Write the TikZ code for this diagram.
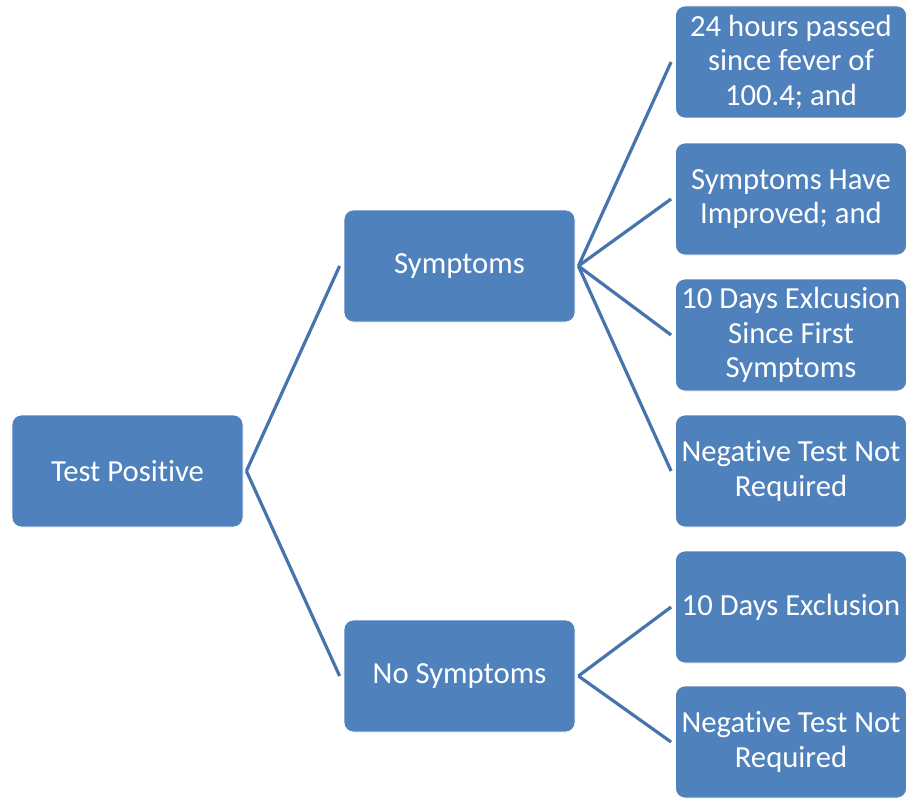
\documentclass[tikz,border=0pt]{standalone}
\usepackage{fontspec}
\setmainfont[Ligatures={NoCommon}]{Carlito}
\definecolor{boxfill}{HTML}{4F81BD}
\definecolor{linkc}{HTML}{4674AC}
\begin{document}
\begin{tikzpicture}[x=0.75pt,y=-0.75pt,
  box/.style={draw=white,line width=0.6pt,fill=boxfill,rounded corners=7pt,
    minimum width=173.25pt,minimum height=84pt,inner sep=0pt,align=center,
    text=white,font=\fontsize{23}{26}\selectfont},
  link/.style={draw=linkc,line width=2.4pt}]
\useasboundingbox (0,0) rectangle (907,799);
\node[box] (tp) at (127.5,471) {Test Positive};
\node[box] (sym) at (459.5,266) {Symptoms};
\node[box] (nosym) at (459.5,676) {No Symptoms};
\node[box] (r1) at (791,62) {24 hours passed\\since fever of\\100.4; and};
\node[box] (r2) at (791,199) {Symptoms Have\\Improved; and};
\node[box] (r3) at (791,335) {10 Days Exlcusion\\Since First\\Symptoms};
\node[box] (r4) at (791,471) {Negative Test Not\\Required};
\node[box] (r5) at (791,607) {10 Days Exclusion};
\node[box] (r6) at (791,742) {Negative Test Not\\Required};
\foreach \p/\c in {tp/sym,tp/nosym,sym/r1,sym/r2,sym/r3,sym/r4,nosym/r5,nosym/r6}
  \draw[link] ([xshift=2.25pt]\p.east) -- ([xshift=-3pt]\c.west);
\end{tikzpicture}
\end{document}
